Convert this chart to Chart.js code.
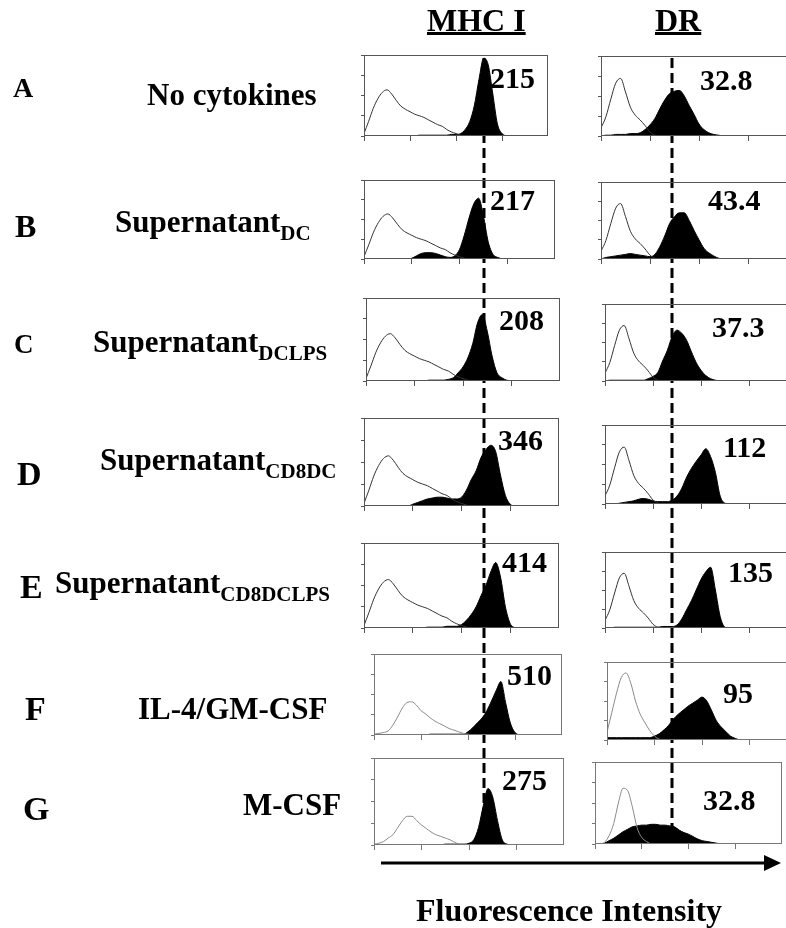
<!DOCTYPE html>
<html lang="en">
<head>
<meta charset="UTF-8">
<title>MHC I and DR expression</title>
<style>
  body { margin: 0; padding: 0; background: #fff; overflow: hidden; width: 786px; height: 928px; position: relative; }
  #bg { position: absolute; left: 0; top: 0; }
  .panel { position: absolute; }
</style>
</head>
<body>
<canvas id="bg" width="786" height="928"></canvas>
<script src="https://cdn.jsdelivr.net/npm/chart.js@4.4.0/dist/chart.umd.min.js"></script>
<script>
// conditions, one per row
const rowLetters = ['A', 'B', 'C', 'D', 'E', 'F', 'G'];
const rowNames = ['No cytokines', 'Supernatant', 'Supernatant', 'Supernatant', 'Supernatant', 'IL-4/GM-CSF', 'M-CSF'];
const rowSubs = ['', 'DC', 'DCLPS', 'CD8DC', 'CD8DCLPS', '', ''];
const mhcMfi = ['215', '217', '208', '346', '414', '510', '275'];
const drMfi = ['32.8', '43.4', '37.3', '112', '135', '95', '32.8'];

// histograms: % of max height per 0.1-decade bin (log scale, 4 decades)
const binWidth = 0.1;
const ctrlMhc = [3, 18, 34, 46, 54, 57, 52, 44, 37, 33, 30, 27, 25, 23, 20, 17, 14, 12, 8, 5, 3, 1, 0];
const ctrlDr = [10, 24, 46, 66, 72, 55, 36, 26, 20, 13, 5, 1, 0];
const ctrlMhcF = [1, 2, 3, 5, 12, 22, 33, 40, 41, 37, 30, 26, 21, 17, 14, 11, 8, 6, 4, 2, 1, 0];
const ctrlDrF = [10, 35, 60, 80, 86, 73, 50, 33, 22, 12, 5, 1, 0];
const ctrlMhcG = [1, 2, 4, 8, 12, 20, 28, 33, 33, 28, 23, 19, 15, 12, 10, 8, 6, 3, 1, 0];
const ctrlDrG = [0, 0, 2, 10, 25, 50, 68, 65, 45, 20, 8, 3, 0];

const mhcA = [0, 0, 0, 0, 0, 0, 0, 0, 0, 0, 0, 0, 1, 1, 1, 1, 1, 1, 1, 2, 2, 3, 8, 18, 38, 70, 96, 88, 52, 15, 3, 0];
const mhcB = [0, 0, 0, 0, 0, 0, 0, 0, 0, 0, 1, 4, 7, 8, 8, 7, 5, 3, 2, 4, 12, 30, 52, 70, 77, 55, 22, 6, 2, 0];
const mhcC = [0, 0, 0, 0, 0, 0, 0, 0, 0, 0, 0, 0, 0, 1, 1, 1, 1, 2, 4, 10, 17, 28, 45, 70, 80, 60, 30, 10, 4, 1, 0];
const mhcD = [0, 0, 0, 0, 0, 0, 0, 0, 0, 0, 2, 4, 6, 8, 9, 10, 10, 9, 8, 8, 10, 18, 30, 40, 55, 64, 69, 62, 35, 12, 2, 0];
const mhcE = [0, 0, 0, 0, 0, 0, 0, 0, 0, 0, 0, 0, 0, 1, 1, 1, 1, 2, 2, 2, 4, 9, 16, 25, 38, 50, 66, 77, 60, 25, 5, 0];
const mhcF = [0, 0, 0, 0, 0, 0, 0, 0, 0, 0, 0, 0, 1, 1, 1, 1, 1, 1, 1, 1, 4, 9, 15, 21, 30, 42, 55, 66, 40, 15, 3, 0];
const mhcG = [0, 0, 0, 0, 0, 0, 0, 0, 0, 0, 0, 0, 0, 0, 0, 1, 1, 1, 1, 1, 2, 6, 20, 45, 65, 55, 28, 6, 1, 0];

const drA = [0, 1, 1, 2, 2, 2, 3, 3, 4, 8, 14, 22, 34, 45, 53, 56, 57, 50, 38, 27, 15, 8, 4, 2, 1, 0];
const drB = [0, 2, 3, 4, 5, 6, 7, 6, 5, 4, 3, 6, 16, 30, 46, 55, 60, 60, 50, 37, 25, 14, 8, 4, 1, 0];
const drC = [0, 1, 1, 1, 1, 1, 1, 1, 1, 3, 6, 11, 26, 40, 58, 66, 62, 53, 38, 24, 14, 7, 3, 1, 0];
const drD = [0, 0, 0, 1, 2, 3, 4, 6, 7, 6, 4, 3, 3, 3, 5, 10, 20, 34, 45, 54, 62, 70, 60, 40, 10, 1, 0];
const drE = [0, 0, 1, 1, 1, 1, 1, 1, 1, 1, 1, 1, 2, 2, 2, 4, 12, 24, 36, 50, 64, 74, 80, 50, 15, 1, 0];
const drF = [3, 3, 3, 3, 3, 3, 3, 3, 3, 3, 5, 8, 13, 19, 27, 33, 38, 43, 47, 51, 55, 50, 38, 25, 17, 11, 5, 2, 0];
const drG = [0, 0, 1, 4, 7, 11, 15, 18, 21, 22, 23, 23, 24, 24, 23, 23, 22, 21, 17, 14, 12, 9, 6, 4, 3, 2, 1, 0];

const mhcCtrl = [ctrlMhc, ctrlMhc, ctrlMhc, ctrlMhc, ctrlMhc, ctrlMhcF, ctrlMhcG];
const drCtrl = [ctrlDr, ctrlDr, ctrlDr, ctrlDr, ctrlDr, ctrlDrF, ctrlDrG];
const mhcStain = [mhcA, mhcB, mhcC, mhcD, mhcE, mhcF, mhcG];
const drStain = [drA, drB, drC, drD, drE, drF, drG];

// reference lines (decades), taken at the untreated peak
const MHC_REF = 2.6;
const DR_REF = 1.45;

// panel boxes [left, top, right, bottom]
const mhcBoxes = [[364, 55, 548, 136], [364, 180, 555, 259], [366, 298, 560, 381], [364, 418, 559, 506],
                  [364, 543, 559, 628], [374, 654, 562, 735], [374, 758, 564, 845]];
const drBoxes = [[601, 56, 797, 136], [601, 182, 797, 259], [605, 304, 797, 381], [605, 425, 797, 504],
                 [605, 552, 797, 628], [607, 662, 797, 740], [595, 762, 782, 844]];

const X_TICK = 5, Y_TICK = 3;
const SERIF = '"Liberation Serif", "Times New Roman", serif';

const frame = {
    id: 'frame',
    afterDatasetsDraw(chart, args, opts) {
        const { ctx, chartArea: a } = chart;
        ctx.save();
        ctx.strokeStyle = opts.color;
        ctx.lineWidth = 1;
        ctx.strokeRect(Math.round(a.left) + 0.5, Math.round(a.top) + 0.5,
                       Math.round(a.right - a.left) - 1, Math.round(a.bottom - a.top) - 1);
        ctx.restore();
    }
};

function histPoints(vals) {
    return vals.map((v, i) => ({ x: i * binWidth, y: v }));
}

function makePanel(box, ctrl, stain, ctrlColor, frameColor) {
    const cv = document.createElement('canvas');
    cv.width = box[2] - box[0] + Y_TICK;
    cv.height = box[3] - box[1] + X_TICK;
    cv.className = 'panel';
    cv.style.left = (box[0] - Y_TICK) + 'px';
    cv.style.top = box[1] + 'px';
    document.body.appendChild(cv);
    const chart = new Chart(cv, {
        type: 'line',
        data: {
            datasets: [
                { data: histPoints(ctrl), borderColor: ctrlColor, borderWidth: 1, fill: false,
                  pointRadius: 0, cubicInterpolationMode: 'monotone', order: 0 },
                { data: histPoints(stain), borderColor: '#000', backgroundColor: '#000', borderWidth: 1,
                  fill: 'origin', pointRadius: 0, cubicInterpolationMode: 'monotone', order: 1 }
            ]
        },
        options: {
            responsive: false,
            animation: false,
            events: [],
            layout: { padding: 0 },
            plugins: { legend: { display: false }, tooltip: { enabled: false }, frame: { color: frameColor } },
            scales: {
                x: { type: 'linear', min: 0, max: 4,
                     ticks: { display: false, stepSize: 1 },
                     grid: { drawOnChartArea: false, tickLength: X_TICK, color: frameColor },
                     border: { display: false } },
                y: { min: 0, max: 100,
                     ticks: { display: false, stepSize: 25 },
                     grid: { drawOnChartArea: false, tickLength: Y_TICK, color: frameColor },
                     border: { display: false } }
            }
        },
        plugins: [frame]
    });
    chart.offsetLeft = box[0] - Y_TICK;
    return chart;
}

const mhcCharts = [], drCharts = [];
for (let r = 0; r < rowLetters.length; r++) {
    const faded = r >= 5;
    mhcCharts.push(makePanel(mhcBoxes[r], mhcCtrl[r], mhcStain[r], faded ? '#8a8a8a' : '#333', faded ? '#777' : '#555'));
    drCharts.push(makePanel(drBoxes[r], drCtrl[r], drStain[r], faded ? '#8a8a8a' : '#333', faded ? '#777' : '#555'));
}

// labels, reference lines and axis arrow underneath the panels
const bg = document.getElementById('bg').getContext('2d');
bg.fillStyle = '#000';
bg.strokeStyle = '#000';

function bold(size) { return 'bold ' + size + 'px ' + SERIF; }

function underlined(text, x, y, size) {
    bg.font = bold(size);
    bg.fillText(text, x, y);
    const w = bg.measureText(text).width;
    bg.fillRect(x, y + 1, w, 3);
}
underlined('MHC I', 427, 31, 32);
underlined('DR', 655, 31, 32);

const letterPos = [[13, 97, 28], [15, 237, 32], [14, 353, 27], [17, 485, 34], [20, 598, 34], [25, 720, 34], [23, 820, 34]];
const namePos = [[147, 105], [115, 232], [93, 352], [100, 470], [55, 593], [138, 719], [243, 815]];
const mhcNumPos = [[490, 88], [490, 210], [499, 330], [498, 450], [502, 572], [507, 685], [502, 790]];
const drNumPos = [[700, 90], [708, 210], [712, 337], [723, 457], [728, 582], [723, 703], [703, 810]];

for (let r = 0; r < rowLetters.length; r++) {
    const [lx, ly, ls] = letterPos[r];
    bg.font = bold(ls);
    bg.fillText(rowLetters[r], lx, ly);

    const [nx, ny] = namePos[r];
    bg.font = bold(31);
    bg.fillText(rowNames[r], nx, ny);
    if (rowSubs[r]) {
        const w = bg.measureText(rowNames[r]).width;
        bg.font = bold(21);
        bg.fillText(rowSubs[r], nx + w, ny + 8);
    }

    bg.font = bold(30);
    bg.fillText(mhcMfi[r], mhcNumPos[r][0], mhcNumPos[r][1]);
    bg.fillText(drMfi[r], drNumPos[r][0], drNumPos[r][1]);
}

// dashed reference lines through all rows
function dashed(chart, value, y0, y1) {
    const x = Math.round(chart.offsetLeft + chart.scales.x.getPixelForValue(value));
    bg.save();
    bg.lineWidth = 3;
    bg.setLineDash([10, 5]);
    bg.beginPath();
    bg.moveTo(x, y0);
    bg.lineTo(x, y1);
    bg.stroke();
    bg.restore();
}
dashed(mhcCharts[0], MHC_REF, 58, 842);
dashed(drCharts[0], DR_REF, 58, 842);

// intensity arrow
bg.lineWidth = 3;
bg.beginPath();
bg.moveTo(381, 863);
bg.lineTo(768, 863);
bg.stroke();
bg.beginPath();
bg.moveTo(764, 855);
bg.lineTo(781, 863);
bg.lineTo(764, 871);
bg.closePath();
bg.fill();

bg.font = bold(32);
bg.fillText('Fluorescence Intensity', 416, 921);
</script>
</body>
</html>
